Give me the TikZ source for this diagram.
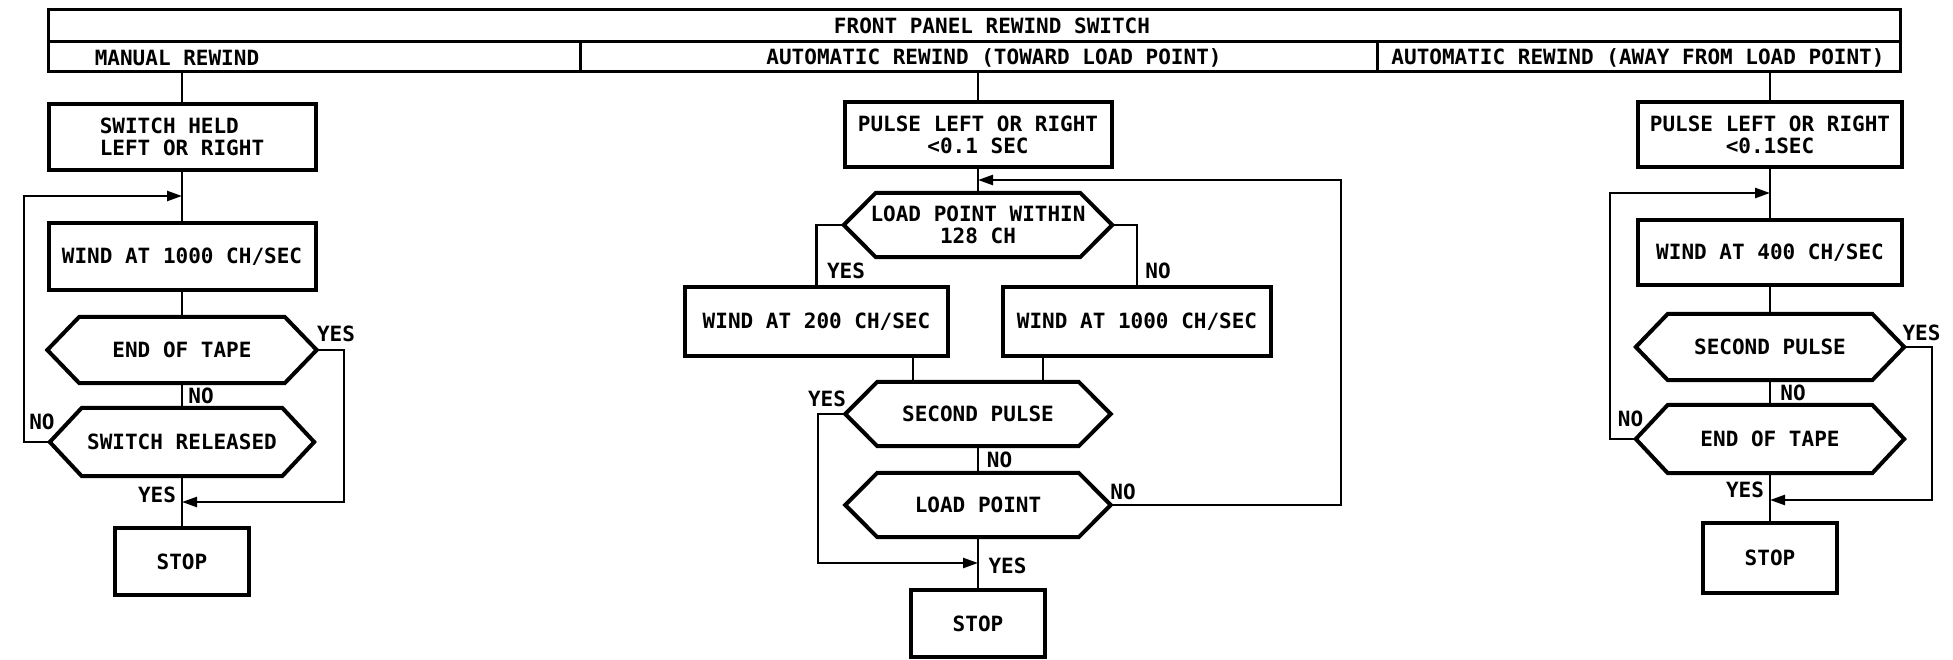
\documentclass[tikz,border=0pt]{standalone}
\usepackage{fontspec}
\setmainfont{DejaVu Sans Mono}
\usetikzlibrary{arrows.meta}
\newcommand\flowfont{\fontsize{21}{22}\selectfont\bfseries}
\begin{document}
\begin{tikzpicture}[x=1pt,y=-1pt,
  box/.style={draw, line width=4pt, rectangle, inner sep=0pt, align=center, font=\flowfont},
  hexn/.style={rectangle, inner sep=0pt, align=center, font=\flowfont},
  hexline/.style={line width=4pt, line join=miter},
  conn/.style={line width=2.4pt},
  arr/.style={conn, -{Triangle[length=15pt,width=10pt]}},
  lbl/.style={inner sep=0pt, font=\flowfont},
  hdr/.style={draw, line width=3pt, rectangle, inner sep=0pt}]
\useasboundingbox (0,0) rectangle (1953,660);

% header
\node[hdr, minimum width=1852pt, minimum height=32pt] (top) at (974,26) {};
\node[hdr, minimum width=532pt, minimum height=30pt] (cA) at (314,57) {};
\node[hdr, minimum width=797pt, minimum height=30pt] (cB) at (978.5,57) {};
\node[hdr, minimum width=523pt, minimum height=30pt] (cC) at (1638.5,57) {};
\node[lbl] (tT) at (992,26) {FRONT PANEL REWIND SWITCH};
\node[lbl] (tA) at (177,58) {MANUAL REWIND};
\node[lbl] (tB) at (994,58) {AUTOMATIC REWIND (TOWARD LOAD POINT)};
\node[lbl] (tC) at (1638,58) {AUTOMATIC REWIND (AWAY FROM LOAD POINT)};

% column 1
\node[box, minimum width=267pt, minimum height=66pt, align=left] (sh1) at (182,137) {SWITCH HELD\\LEFT OR RIGHT};
\node[box, minimum width=267pt, minimum height=67pt] (w1) at (182,256.5) {WIND AT 1000 CH/SEC};
\node[hexn, minimum width=269pt, minimum height=66pt] (et1) at (182,350) {END OF TAPE};
\node[hexn, minimum width=264pt, minimum height=68pt] (sr1) at (182,442) {SWITCH RELEASED};
\node[box, minimum width=134pt, minimum height=67pt] (st1) at (182,561.5) {STOP};
\coordinate (j1) at (182,196);
\coordinate (k1) at (182,502);

% column 2
\node[box, minimum width=267pt, minimum height=65pt] (p2) at (978,134.5) {PULSE LEFT OR RIGHT\\<0.1 SEC};
\node[hexn, minimum width=268pt, minimum height=64pt] (lp2) at (978,225) {LOAD POINT WITHIN\\128 CH};
\node[box, minimum width=263pt, minimum height=69pt] (w200) at (816.5,321.5) {WIND AT 200 CH/SEC};
\node[box, minimum width=268pt, minimum height=69pt] (w1000b) at (1137,321.5) {WIND AT 1000 CH/SEC};
\node[hexn, minimum width=265pt, minimum height=64pt] (sp2) at (978,414) {SECOND PULSE};
\node[hexn, minimum width=265pt, minimum height=64pt] (lpt2) at (978,505) {LOAD POINT};
\node[box, minimum width=134pt, minimum height=67pt] (st2) at (978,623.5) {STOP};
\coordinate (j2) at (978,180);
\coordinate (k2) at (978,563);

% column 3
\node[box, minimum width=264pt, minimum height=65pt] (p3) at (1770,134.5) {PULSE LEFT OR RIGHT\\<0.1SEC};
\node[box, minimum width=264pt, minimum height=65pt] (w400) at (1770,252.5) {WIND AT 400 CH/SEC};
\node[hexn, minimum width=268pt, minimum height=66pt] (sp3) at (1770,347) {SECOND PULSE};
\node[hexn, minimum width=268pt, minimum height=68pt] (et3) at (1770,439) {END OF TAPE};
\node[box, minimum width=134pt, minimum height=70pt] (st3) at (1770,558) {STOP};
\coordinate (j3) at (1770,193);
\coordinate (k3) at (1770,500);

% hexagon outlines
\foreach \n in {et1,sr1,lp2,sp2,lpt2,sp3,et3}{
  \draw[hexline] (\n.west) -- ([xshift=32pt]\n.north west) -- ([xshift=-32pt]\n.north east)
     -- (\n.east) -- ([xshift=-32pt]\n.south east) -- ([xshift=32pt]\n.south west) -- cycle;
}

% connectors column 1
\draw[conn] (sh1.north |- cA.south) -- (sh1.north);
\draw[conn] (sh1.south) -- (w1.north);
\draw[conn] (w1.south) -- (et1.north);
\draw[conn] (et1.south) -- (sr1.north);
\draw[conn] (sr1.south) -- (st1.north);
\draw[arr] (sr1.west) -- ++(-26,0) |- (j1);
\draw[arr] (et1.east) -- ++(27,0) |- (k1);

% connectors column 2
\draw[conn] (p2.north |- cB.south) -- (p2.north);
\draw[conn] (p2.south) -- (lp2.north);
\draw[conn] (lp2.west) -| (w200.north);
\draw[conn] (lp2.east) -| (w1000b.north);
\draw[conn] ([xshift=-37pt]w200.south east) -- ([xshift=-37pt]w200.south east |- sp2.north);
\draw[conn] ([xshift=42pt]w1000b.south west) -- ([xshift=42pt]w1000b.south west |- sp2.north);
\draw[conn] (sp2.south) -- (lpt2.north);
\draw[conn] (lpt2.south) -- (st2.north);
\draw[arr] (lpt2.east) -- ++(230.5,0) |- (j2);
\draw[arr] (sp2.west) -- ++(-27.5,0) |- (k2);

% connectors column 3
\draw[conn] (p3.north |- cC.south) -- (p3.north);
\draw[conn] (p3.south) -- (w400.north);
\draw[conn] (w400.south) -- (sp3.north);
\draw[conn] (sp3.south) -- (et3.north);
\draw[conn] (et3.south) -- (st3.north);
\draw[arr] (et3.west) -- ++(-26,0) |- (j3);
\draw[arr] (sp3.east) -- ++(28,0) |- (k3);

% labels
\node[lbl] (y1a) at (336,333.5) {YES};
\node[lbl] (n1a) at (201,395.5) {NO};
\node[lbl] (n1b) at (42,421.5) {NO};
\node[lbl] (y1b) at (157,494.5) {YES};

\node[lbl] (y2a) at (846,270.5) {YES};
\node[lbl] (n2a) at (1158,270.5) {NO};
\node[lbl] (y2b) at (827,398.5) {YES};
\node[lbl] (n2b) at (999.5,459.5) {NO};
\node[lbl] (n2c) at (1123,491.5) {NO};
\node[lbl] (y2c) at (1007.5,565.5) {YES};

\node[lbl] (y3a) at (1921.5,333) {YES};
\node[lbl] (n3a) at (1793,392.5) {NO};
\node[lbl] (n3b) at (1630.5,419) {NO};
\node[lbl] (y3b) at (1745,489.5) {YES};
\end{tikzpicture}
\end{document}
